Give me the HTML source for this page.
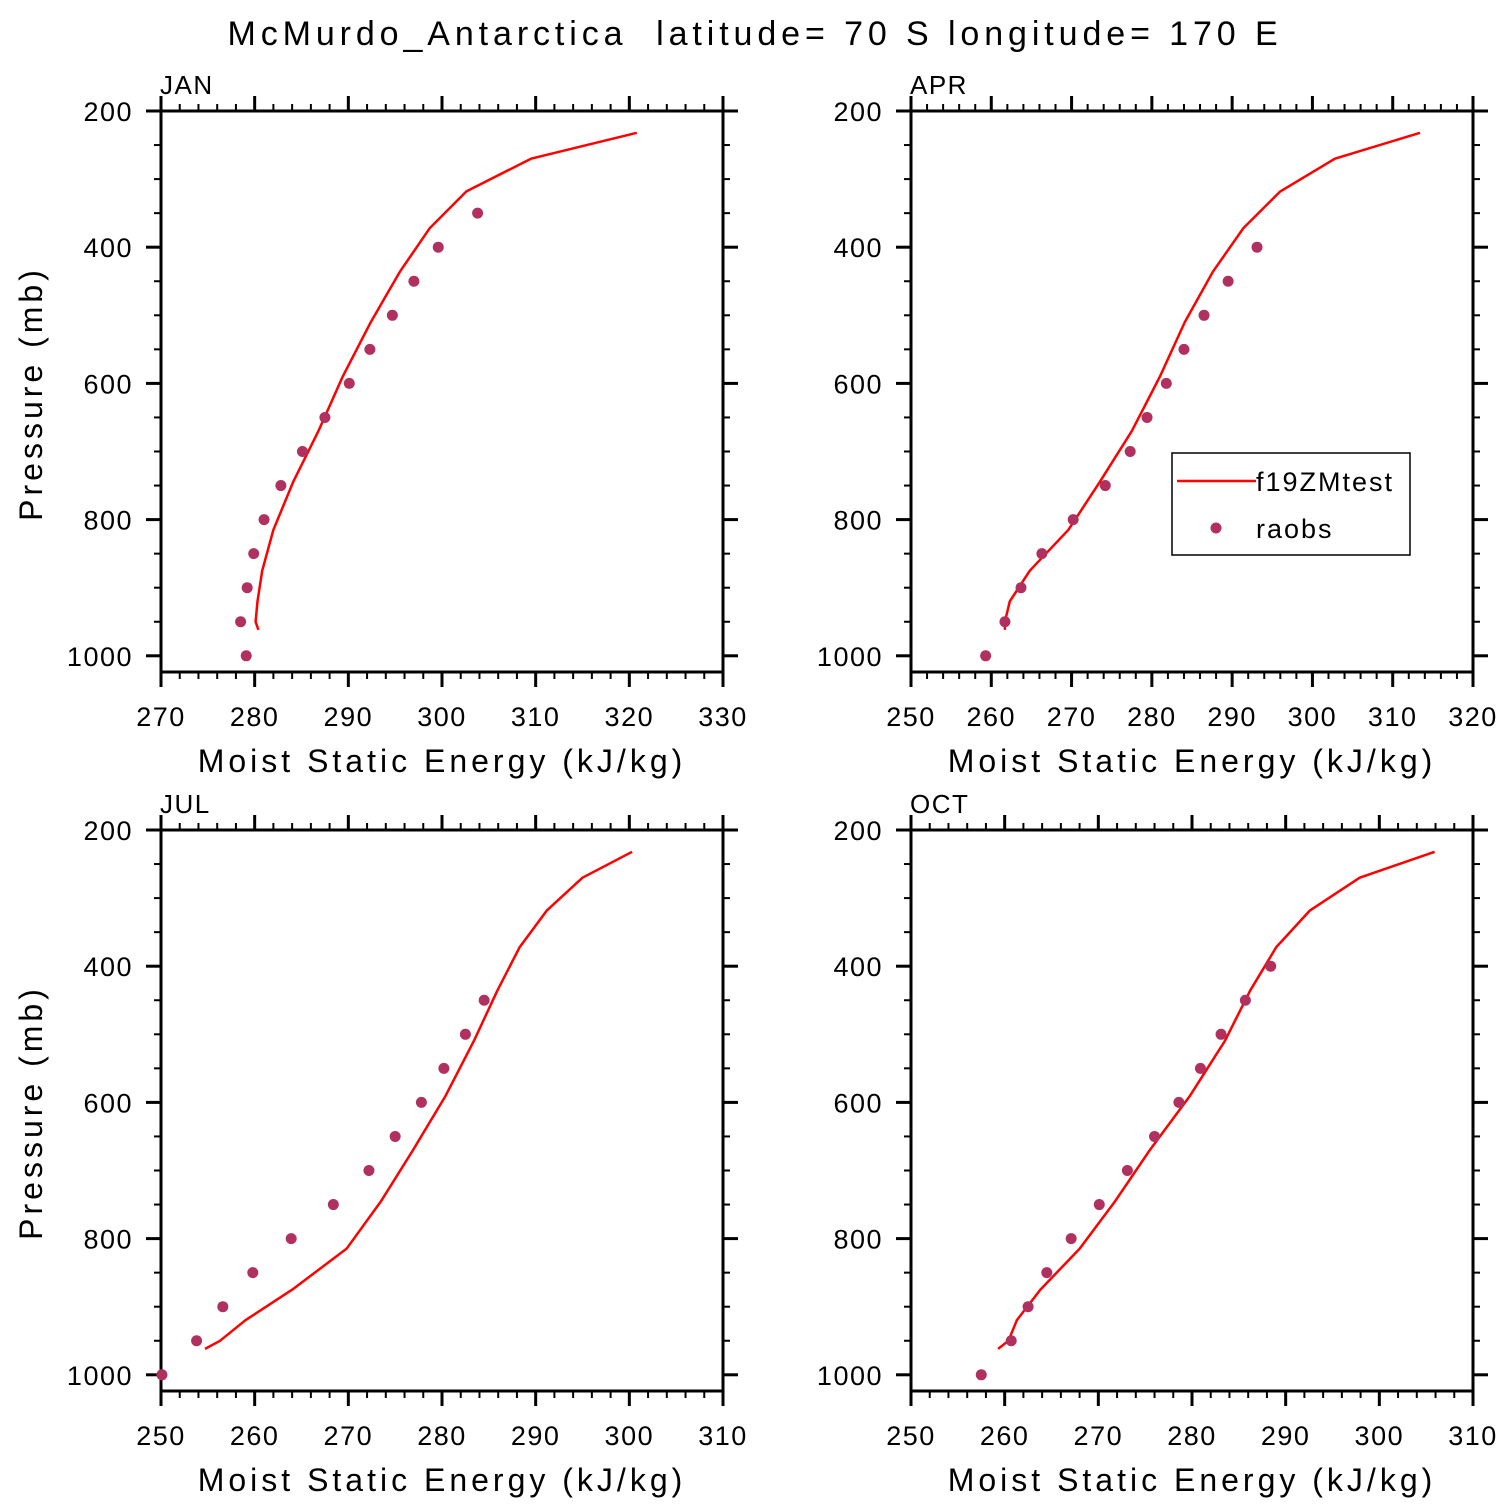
<!DOCTYPE html>
<html><head><meta charset="utf-8"><style>
html,body{margin:0;padding:0;background:#fff;}
svg{display:block;font-family:"Liberation Sans","DejaVu Sans",sans-serif;}
</style></head><body>
<svg id="chart" width="1510" height="1510" viewBox="0 0 1510 1510" xmlns="http://www.w3.org/2000/svg">
<rect width="1510" height="1510" fill="#fff"/>
<text x="755" y="45" font-size="34" text-anchor="middle" letter-spacing="4.9" style="white-space:pre" xml:space="preserve">McMurdo_Antarctica  latitude= 70 S longitude= 170 E</text>
</svg>
<script>
// model pressure levels (mb) for the f19ZMtest line
const levels = [232,270,318,372,436,510,590,670,745,815,875,920,950,962];
const janLine = [320.8,309.5,302.6,298.7,295.5,292.4,289.4,286.8,284.1,282.0,280.8,280.3,280.1,280.4];
const aprLine = [313.4,302.8,296.0,291.4,287.6,284.1,281.0,277.5,273.5,269.6,264.8,262.3,261.7,261.7];
const julLine = [300.3,295.0,291.2,288.3,285.9,283.4,280.4,276.9,273.5,269.8,264.0,259.0,256.3,254.7];
const octLine = [305.9,297.9,292.6,289.0,286.2,283.5,279.8,275.5,271.8,268.0,263.8,261.3,260.4,259.3];
// observation pressures and values
const janObsP = [350,400,450,500,550,600,650,700,750,800,850,900,950,1000];
const janObs = [303.8,299.6,297.0,294.7,292.3,290.1,287.5,285.1,282.8,281.0,279.9,279.2,278.5,279.1];
const aprObsP = [400,450,500,550,600,650,700,750,800,850,900,950,1000];
const aprObs = [293.1,289.5,286.5,284.0,281.8,279.4,277.3,274.2,270.2,266.3,263.7,261.7,259.3];
const julObsP = [450,500,550,600,650,700,750,800,850,900,950,1000];
const julObs = [284.5,282.5,280.2,277.8,275.0,272.2,268.4,263.9,259.8,256.6,253.8,250.1];
const octObsP = [400,450,500,550,600,650,700,750,800,850,900,950,1000];
const octObs = [288.4,285.7,283.1,280.9,278.6,276.0,273.1,270.1,267.1,264.5,262.5,260.7,257.5];
const pTicks = [200,400,600,800,1000];
const janXTicks = [270,280,290,300,310,320,330];
const aprXTicks = [250,260,270,280,290,300,310,320];
const jxTicks = [250,260,270,280,290,300,310];

const NS = "http://www.w3.org/2000/svg";
const svg = document.getElementById('chart');
function el(tag, attrs, parent){
  const e = document.createElementNS(NS, tag);
  for (const k in attrs) e.setAttribute(k, attrs[k]);
  (parent||svg).appendChild(e); return e;
}
function panel(cfg){
  const g = el('g', {});
  
  
  const L=cfg.x, R=cfg.x+562, T=cfg.y, B=cfg.y+561;
  const pMin=200, pMax=200+561/0.681;
  const xs = v => L + (v-cfg.xmin)/(cfg.xmax-cfg.xmin)*(R-L);
  const ys = p => T + (p-pMin)/(pMax-pMin)*(B-T);
  for (let v=cfg.xmin; v<=cfg.xmax+1e-6; v+=2){
    const major = Math.abs((v-cfg.xmin)%10)<1e-6;
    const len = major?15:7;
    el('line',{x1:xs(v),x2:xs(v),y1:B,y2:B+len,stroke:'#000','stroke-width':major?3:2},g);
    el('line',{x1:xs(v),x2:xs(v),y1:T,y2:T-len,stroke:'#000','stroke-width':major?3:2},g);
  }
  for (let p=200; p<=1000; p+=50){
    const major = p%200===0;
    const len = major?15:7;
    el('line',{x1:L,x2:L-len,y1:ys(p),y2:ys(p),stroke:'#000','stroke-width':major?3:2},g);
    el('line',{x1:R,x2:R+len,y1:ys(p),y2:ys(p),stroke:'#000','stroke-width':major?3:2},g);
  }
  const frame = el('rect',{x:L,y:T,width:R-L,height:B-T,fill:'none',stroke:'#000','stroke-width':3},g);
  
  
  cfg.xticks.forEach(v=>{
    const t = el('text',{x:xs(v),y:B+54,'font-size':27,'text-anchor':'middle','letter-spacing':'1.5'},g);
    t.textContent = v;
    
    
  });
  pTicks.forEach(p=>{
    const t = el('text',{x:L-28,y:ys(p)+10,'font-size':27,'text-anchor':'end','letter-spacing':'1.5'},g);
    t.textContent = p;
    
    
  });
  const xt = el('text',{x:(L+R)/2,y:B+100,'font-size':32,'text-anchor':'middle','letter-spacing':'4'},g);
  xt.textContent = 'Moist Static Energy (kJ/kg)';
  
  
  if (cfg.ylabel){
    const yt = el('text',{x:0,y:0,'font-size':32,'text-anchor':'middle','letter-spacing':'4',transform:`translate(42,${(T+B)/2+2}) rotate(-90)`},g);
    yt.textContent = 'Pressure (mb)';
    
    
  }
  const mt = el('text',{x:L-1,y:T-17,'font-size':26,'letter-spacing':'1.5'},g);
  mt.textContent = cfg.label;
  
  
  const pts = levels.map((p,i)=>xs(cfg.line[i]).toFixed(1)+','+ys(p).toFixed(1)).join(' ');
  const ln = el('polyline',{points:pts,fill:'none',stroke:'#ff0000','stroke-width':2.5,'stroke-linejoin':'round'},g);
  
  
  cfg.obs.forEach((v,i)=>{
    const c = el('circle',{cx:xs(v),cy:ys(cfg.obsP[i]),r:5.5,fill:'#b03060'},g);
    
    
  });
}
panel({name:'jan',label:'JAN',x:161,y:111,xmin:270,xmax:330,xticks:janXTicks,line:janLine,obs:janObs,obsP:janObsP,ylabel:true});
panel({name:'apr',label:'APR',x:911,y:111,xmin:250,xmax:320,xticks:aprXTicks,line:aprLine,obs:aprObs,obsP:aprObsP,ylabel:false});
panel({name:'jul',label:'JUL',x:161,y:830,xmin:250,xmax:310,xticks:jxTicks,line:julLine,obs:julObs,obsP:julObsP,ylabel:true});
panel({name:'oct',label:'OCT',x:911,y:830,xmin:250,xmax:310,xticks:jxTicks,line:octLine,obs:octObs,obsP:octObsP,ylabel:false});

const lg = el('g',{});


el('rect',{x:1172,y:453,width:238,height:102,fill:'#fff',stroke:'#000','stroke-width':1.5},lg);
const l1 = el('line',{x1:1177,x2:1256,y1:481,y2:481,stroke:'#ff0000','stroke-width':2.5},lg);


const t1 = el('text',{x:1256,y:491,'font-size':27,'letter-spacing':'2'},lg);
t1.textContent = 'f19ZMtest';
const c1 = el('circle',{cx:1216,cy:528,r:5.5,fill:'#b03060'},lg);


const t2 = el('text',{x:1256,y:538,'font-size':27,'letter-spacing':'2'},lg);
t2.textContent = 'raobs';
</script>
</body></html>
